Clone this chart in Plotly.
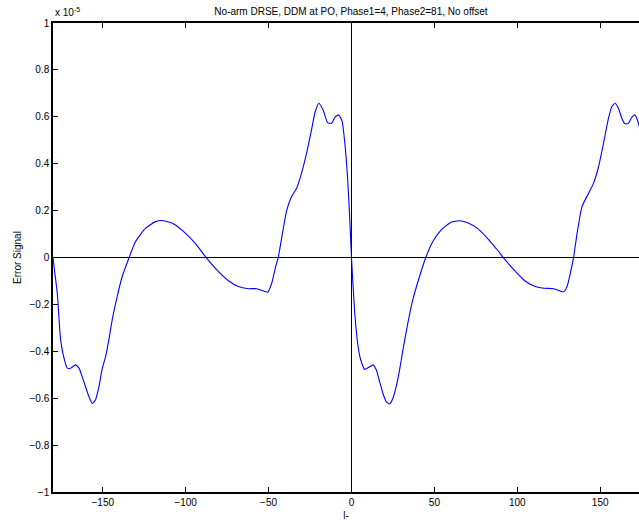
import plotly.graph_objects as go

# Left half, x in degrees, y in units of 1e-5
x_left = [-180, -179, -177.4, -176, -175.4, -174, -171.4, -169.4, -166.4, -164.3, -162.4, -160.4,
          -158.3, -156.3, -154.4, -152.3, -150.5, -148.3, -146.3, -144.3, -141.3, -138.3,
          -134.3, -130.3, -124.3, -118.2, -113.2, -107.2, -101.2, -94.2, -87.2, -81.2, -74.2,
          -68.2, -62.2, -57.1, -53.1, -50.5, -48.1, -45.7, -44.1, -41.7, -39.1, -36.1, -33.1,
          -30.1, -27.1, -24.1, -22.1, -19.7, -17.1, -14.4, -12, -10, -7.6, -5.6, -4, -2.4, -1, 0]
y_left = [0.0, -0.06, -0.153, -0.30, -0.35, -0.41, -0.472, -0.472, -0.458, -0.472, -0.508, -0.551,
          -0.594, -0.622, -0.608, -0.551, -0.48, -0.423, -0.35, -0.266, -0.167, -0.082,
          -0.004, 0.067, 0.124, 0.153, 0.157, 0.143, 0.11, 0.06, -0.004, -0.053, -0.099,
          -0.124, -0.133, -0.133, -0.143, -0.148, -0.11, -0.039, 0.003, 0.10, 0.2, 0.26, 0.295,
          0.36, 0.444, 0.544, 0.615, 0.658, 0.629, 0.575, 0.572, 0.598, 0.608, 0.579, 0.487,
          0.345, 0.16, 0.0]

# Right half
x_right = [2, 4, 5.6, 8, 11, 13, 15, 17, 19, 21, 23, 25, 27, 29, 31, 34, 37, 41, 45, 49, 54, 60, 65,
           70, 76, 82, 88, 92, 98, 104, 110, 116, 122, 126, 128, 130, 132, 134, 136, 139, 143,
           146, 149, 152, 155, 157, 159, 161, 163, 165, 167, 169, 171, 173.4, 175, 176.5, 178, 180]
y_right = [-0.24, -0.38, -0.437, -0.477, -0.466, -0.458, -0.48, -0.53, -0.58, -0.615, -0.625, -0.60,
           -0.55, -0.48, -0.395, -0.28, -0.18, -0.082, 0.003, 0.067, 0.117, 0.15, 0.157,
           0.148, 0.124, 0.082, 0.032, -0.004, -0.053, -0.096, -0.122, -0.131, -0.133, -0.143,
           -0.146, -0.124, -0.067, 0.003, 0.10, 0.217, 0.274, 0.317, 0.387, 0.487, 0.594, 0.643,
           0.658, 0.636, 0.594, 0.57, 0.572, 0.598, 0.608, 0.565, 0.45, 0.30, 0.12, 0.0]

x_vals = x_left + x_right
y_vals = y_left + y_right

x_ticks = [-150, -100, -50, 0, 50, 100, 150]
y_ticks = [-1, -0.8, -0.6, -0.4, -0.2, 0, 0.2, 0.4, 0.6, 0.8, 1]
y_tick_text = ["\u22121", "\u22120.8", "\u22120.6", "\u22120.4", "\u22120.2", "0", "0.2", "0.4", "0.6", "0.8", "1"]
x_tick_text = ["\u2212150", "\u2212100", "\u221250", "0", "50", "100", "150"]

FONT = "Liberation Sans"

fig = go.Figure()
fig.add_trace(go.Scatter(x=x_vals, y=y_vals, mode="lines",
                         line=dict(color="#0000ff", width=1.1, shape="spline", smoothing=0.5),
                         showlegend=False, hoverinfo="skip"))

fig.update_layout(
    width=639, height=523,
    margin=dict(l=53, r=0, t=23, b=31),
    paper_bgcolor="white", plot_bgcolor="white",
    font=dict(family=FONT, size=10, color="black"),
    title=dict(text="No-arm DRSE, DDM at PO, Phase1=4, Phase2=81, No offset",
               x=351/639, xref="container", xanchor="center", y=1 - 11/523, yanchor="middle",
               font=dict(size=10, family=FONT)),
    showlegend=False,
)

fig.update_xaxes(range=[-180, 173.4], tickvals=x_ticks, ticktext=x_tick_text,
                 showgrid=False, zeroline=True, zerolinecolor="black", zerolinewidth=1,
                 showline=True, linecolor="black", linewidth=1.5, mirror="ticks",
                 ticks="inside", ticklen=5, tickcolor="black",
                 title=dict(text="l-", standoff=5, font=dict(size=10)))
fig.update_yaxes(range=[-1, 1], tickvals=y_ticks, ticktext=y_tick_text,
                 showgrid=False, zeroline=True, zerolinecolor="black", zerolinewidth=1,
                 showline=True, linecolor="black", linewidth=1.5, mirror=False,
                 ticks="inside", ticklen=5, tickcolor="black",
                 title=dict(text="Error Signal", standoff=6, font=dict(size=10)))

fig.add_annotation(text="x 10<sup>-5</sup>", xref="paper", yref="paper",
                   x=0.0, y=1.0, xanchor="left", yanchor="bottom", showarrow=False,
                   font=dict(size=10, family=FONT), yshift=3)

fig.write_html("out.html")
